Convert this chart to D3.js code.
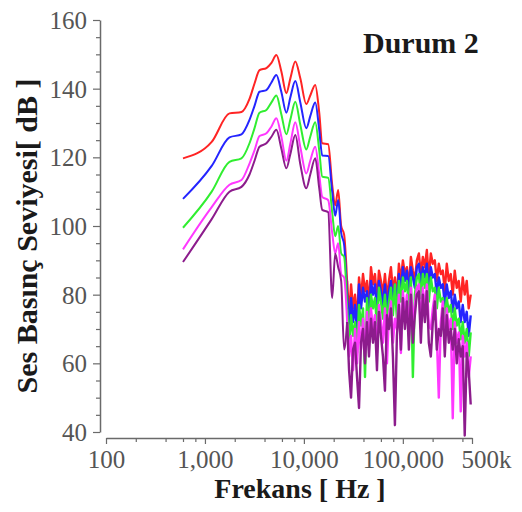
<!DOCTYPE html>
<html>
<head>
<meta charset="utf-8">
<script src="https://cdn.jsdelivr.net/npm/d3@7"></script>
<style>
  html, body { margin: 0; padding: 0; background: #fff; }
  svg { display: block; }
  text { font-family: "Liberation Serif", "Times New Roman", serif; }
</style>
</head>
<body>
<svg id="chart" width="522" height="512"></svg>
<script>
// Frequencies (Hz): smooth low band, then the dense high band
const lowBandHz = [600, 1170, 1770, 2340, 2820, 3170, 3560, 4180, 4700, 5270, 5920, 6650, 7300, 8190,
  9200, 10570, 11600, 13020, 14290, 15320, 17610, 19320, 20720, 22210, 23810, 25510, 27350];
const highBandHz = [28600, 29960, 31380, 32870, 34430, 36070, 37780, 39580, 41460, 43430, 45490, 47650,
  49910, 52280, 54770, 57370, 60090, 62950, 65940, 69070, 72350, 75790, 79390, 83160, 87110, 91250,
  95580, 100100, 104900, 109900, 115100, 120600, 126300, 132300, 138600, 145200, 152100, 159300,
  166900, 174800, 183100, 191800, 200900, 210400, 220400, 230900, 241900, 253400, 265400, 278000,
  291200, 305000, 319500, 334700, 350600, 367300, 384700, 403000, 422100, 442200, 463200, 485200];

// Sound pressure level (dB), one array per curve and band
const redLow = [119.7, 124.5, 132.8, 133.2, 137, 141.5, 145.4, 146, 147.5, 149.8, 145, 138.7, 143, 147.9,
  143, 135.5, 138, 141.1, 133, 124.1, 123.8, 112, 106, 110.5, 100, 97.5, 84];
const blueLow = [107.9, 117.5, 125.8, 126.7, 130.9, 135, 139.1, 139.6, 141.8, 144, 139, 133, 137.5, 142.2,
  136, 128.5, 132, 136, 128, 120.5, 120.4, 110, 103, 107.6, 98, 94.5, 80];
const greenLow = [99.5, 110, 118.7, 119.7, 124.1, 128.5, 133, 133.8, 136, 138, 132.5, 126.7, 131, 136.2,
  129.5, 122.3, 126, 130.2, 122, 114.4, 114, 104, 97, 100, 92, 91, 76];
const magentaLow = [93.2, 105.5, 112, 113.4, 118.2, 122, 126.2, 127, 129, 131.4, 126, 119, 124, 130.2,
  123, 115.3, 119, 123.1, 115, 108.5, 107.5, 98, 92, 95, 86, 85, 72];
const purpleLow = [89.5, 102, 110, 111.4, 115, 119, 123.1, 124.1, 126, 128, 122.5, 116.8, 121, 126.5,
  118, 111, 115, 119.7, 111, 104.7, 104, 79, 92, 88, 84, 64, 72];

const redHigh = [73, 83, 76, 80, 72, 85, 79, 86, 81, 84, 77, 88, 83, 86, 78, 87, 84, 80, 86, 79,
  84, 88, 81, 85, 79, 89, 84, 90, 86, 88, 82, 91, 87, 84, 90, 92, 86, 91, 88, 93,
  85, 92, 89, 90, 84, 89, 86, 87, 81, 89, 84, 86, 80, 87, 82, 84, 78, 85, 80, 84, 76, 80];
const blueHigh = [70, 79, 72, 77, 69, 83, 76, 82, 78, 81, 74, 84, 80, 83, 75, 84, 81, 77, 83, 76,
  81, 84, 78, 83, 77, 86, 81, 88, 84, 87, 80, 88, 85, 82, 88, 89, 83, 88, 85, 89,
  82, 88, 85, 86, 80, 85, 82, 83, 77, 83, 79, 81, 75, 80, 76, 78, 72, 77, 72, 75, 68, 74];
const greenHigh = [65, 74, 68, 72, 63, 77, 71, 76, 56, 79, 70, 80, 76, 79, 71, 82, 78, 73, 80, 72,
  78, 82, 74, 83, 73, 84, 78, 85, 81, 84, 76, 85, 56, 80, 85, 86, 79, 86, 82, 86,
  78, 85, 81, 82, 76, 82, 78, 79, 73, 79, 75, 77, 70, 76, 71, 73, 67, 72, 66, 70, 62, 69];
const magentaHigh = [62, 68, 58, 70, 60, 72, 64, 73, 62, 75, 66, 76, 70, 74, 63, 77, 72, 66, 76, 60,
  74, 78, 66, 73, 70, 80, 63, 81, 74, 80, 68, 82, 72, 77, 82, 83, 70, 82, 76, 83,
  71, 70, 76, 80, 68, 50, 72, 78, 66, 76, 70, 73, 44, 72, 66, 69, 46, 68, 62, 66, 56, 62];
const purpleHigh = [58, 50, 64, 66, 56, 47, 66, 70, 60, 72, 62, 73, 66, 72, 58, 75, 68, 62, 52, 74,
  70, 76, 62, 42, 68, 77, 64, 79, 70, 78, 64, 80, 66, 74, 80, 81, 66, 80, 72, 81,
  66, 62, 72, 78, 64, 70, 68, 76, 62, 74, 66, 70, 64, 70, 60, 67, 62, 65, 39, 63, 58, 48];

const seriesNames = ["red", "blue", "green", "magenta", "purple"];
const seriesColors = ["#ff2424", "#2424ff", "#30ee30", "#ff38ff", "#8c1c8c"];
const seriesLow = [redLow, blueLow, greenLow, magentaLow, purpleLow];
const seriesHigh = [redHigh, blueHigh, greenHigh, magentaHigh, purpleHigh];

const xTickValues = [100, 1000, 10000, 100000, 500000];
const xTickLabels = ["100", "1,000", "10,000", "100,000", "500k"];
const xMinorTicks = [200, 400, 600, 800, 2000, 4000, 6000, 8000, 20000, 40000, 60000, 80000,
  200000, 400000];
const yTickValues = [40, 60, 80, 100, 120, 140, 160];
const yMinorTicks = [45, 50, 55, 65, 70, 75, 85, 90, 95, 105, 110, 115, 125, 130, 135, 145, 150, 155];

const svg = d3.select("#chart");
const axisColor = "#6a6a6a";

const x = d3.scaleLog().domain([100, 500000]).range([106, 472]);
const y = d3.scaleLinear().domain([40, 160]).range([432, 20]);
const xAxisY = 438;
const yAxisX = 100;

// Curves: smooth low band, sharp-edged high band
const smoothLine = d3.line().x(d => x(d[0])).y(d => y(d[1])).curve(d3.curveMonotoneX);
const sharpLine = d3.line().x(d => x(d[0])).y(d => y(d[1])).curve(d3.curveLinear);

const curves = svg.append("g").attr("class", "curves");
seriesNames.forEach((name, i) => {
  const low = lowBandHz.map((f, k) => [f, seriesLow[i][k]]);
  const high = [low[low.length - 1]].concat(highBandHz.map((f, k) => [f, seriesHigh[i][k]]));
  const g = curves.append("g").attr("class", "curve " + name)
    .attr("fill", "none")
    .attr("stroke", seriesColors[i])
    .attr("stroke-linejoin", "round");
  g.append("path").attr("d", smoothLine(low)).attr("stroke-width", 2);
  g.append("path").attr("d", sharpLine(high)).attr("stroke-width", 2.4);
});

// Y axis
const yAxis = svg.append("g").attr("transform", `translate(${yAxisX},0)`);
yAxis.call(d3.axisLeft(y).tickValues(yTickValues).tickSize(7).tickSizeOuter(0).tickPadding(6)
  .tickFormat(d3.format("d")));
yAxis.append("g").call(d3.axisLeft(y).tickValues(yMinorTicks).tickSize(4).tickSizeOuter(0)
  .tickFormat(""))
  .select(".domain").remove();
yAxis.selectAll(".domain").attr("stroke", axisColor).attr("stroke-width", 1.5);
yAxis.selectAll(".tick line").attr("stroke", axisColor).attr("stroke-width", 1.2);
yAxis.selectAll(".tick text")
  .attr("fill", "#555")
  .style("font-size", "25px")
  .attr("dy", "0.34em");

// X axis
const xAxis = svg.append("g").attr("transform", `translate(0,${xAxisY})`);
xAxis.call(d3.axisBottom(x).tickValues(xTickValues).tickSize(6).tickSizeOuter(0).tickPadding(6)
  .tickFormat((d, i) => xTickLabels[i]));
xAxis.append("g").call(d3.axisBottom(x).tickValues(xMinorTicks).tickSize(4).tickSizeOuter(0)
  .tickFormat(""))
  .select(".domain").remove();
xAxis.selectAll(".domain").attr("stroke", axisColor).attr("stroke-width", 1.5);
xAxis.selectAll(".tick line").attr("stroke", axisColor).attr("stroke-width", 1.2);
xAxis.selectAll(".tick text")
  .attr("fill", "#555")
  .style("font-size", "25px");
xAxis.selectAll(".tick text").filter(d => d === 500000).attr("dx", 14);

// Titles
svg.append("text")
  .attr("x", 300).attr("y", 498)
  .attr("text-anchor", "middle")
  .attr("fill", "#1a1a1a")
  .style("font-size", "28px").style("font-weight", "bold")
  .text("Frekans [ Hz ]");

svg.append("text")
  .attr("transform", "translate(37,236) rotate(-90)")
  .attr("text-anchor", "middle")
  .attr("fill", "#1a1a1a")
  .style("font-size", "30px").style("font-weight", "bold")
  .text("Ses Basınç Seviyesi[ dB ]");

svg.append("text")
  .attr("x", 363).attr("y", 53)
  .attr("fill", "#1a1a1a")
  .style("font-size", "30px").style("font-weight", "bold")
  .text("Durum 2");
</script>
</body>
</html>
